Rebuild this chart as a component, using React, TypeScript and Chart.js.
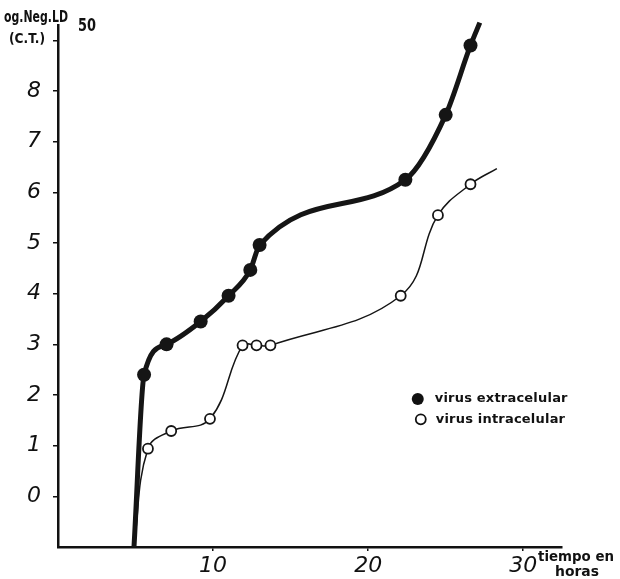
import React, { useEffect, useRef } from "react";
import { Chart, registerables } from "chart.js";

Chart.register(...registerables);

// Extracellular virus (filled markers); first and last entries are curve ends without markers
const extraX = [4.9, 5.55, 7.0, 9.2, 11.0, 12.4, 13.0, 22.4, 25.0, 26.6, 27.2];
const extraY = [-1.0, 2.4, 3.0, 3.45, 3.96, 4.47, 4.96, 6.25, 7.53, 8.9, 9.35];
const extraMarked = [false, true, true, true, true, true, true, true, true, true, false];

// Intracellular virus (open markers)
const intraX = [4.9, 5.8, 7.3, 9.8, 11.9, 12.8, 13.7, 22.1, 24.5, 26.6, 28.3];
const intraY = [-1.0, 0.94, 1.29, 1.53, 2.98, 2.98, 2.98, 3.96, 5.55, 6.16, 6.47];
const intraMarked = [false, true, true, true, true, true, true, true, true, true, false];

const xTickLabels = ["10", "20", "30"];
const yTickLabels = ["0", "1", "2", "3", "4", "5", "6", "7", "8"];
const legendLabels = ["virus extracelular", "virus intracelular"];
const yTitle = ["og.Neg.LD", "50", "(C.T.)"];
const xTitle = ["tiempo en", "horas"];

const toPts = (xs: number[], ys: number[]) => xs.map((x, i) => ({ x, y: ys[i] }));

const FONT = "'DejaVu Sans', sans-serif";

const overlayPlugin = {
  id: "overlay",
  afterDraw(chart: any) {
    const ctx = chart.ctx;
    const xs = chart.scales.x;
    const ys = chart.scales.y;
    ctx.save();
    ctx.fillStyle = "#111";
    ctx.strokeStyle = "#111";
    ctx.textBaseline = "alphabetic";
    ctx.textAlign = "left";
    // y-axis title
    ctx.font = "bold 15px " + FONT;
    ctx.fillText(yTitle[0], 4, 22, 64);
    ctx.font = "bold 17px " + FONT;
    ctx.fillText(yTitle[1], 78, 31, 18);
    ctx.font = "bold 14px " + FONT;
    ctx.fillText(yTitle[2], 9, 43, 36);
    // x-axis title
    ctx.font = "bold 14px " + FONT;
    ctx.fillText(xTitle[0], 538, 561, 76);
    ctx.fillText(xTitle[1], 555, 576, 44);
    // legend
    const lx = xs.getPixelForValue(23.2);
    const ly1 = ys.getPixelForValue(1.92);
    const ly2 = ys.getPixelForValue(1.52);
    ctx.beginPath();
    ctx.arc(lx, ly1, 6, 0, Math.PI * 2);
    ctx.fill();
    ctx.beginPath();
    ctx.lineWidth = 1.8;
    ctx.arc(lx + 3, ly2, 5, 0, Math.PI * 2);
    ctx.stroke();
    ctx.font = "bold 13px " + FONT;
    ctx.textBaseline = "middle";
    try {
      (ctx as any).letterSpacing = "0.2px";
    } catch (e) {}
    ctx.fillText(legendLabels[0], lx + 17, ly1);
    ctx.fillText(legendLabels[1], lx + 18, ly2);
    ctx.restore();
  },
};

export default function App() {
  const ref = useRef<HTMLCanvasElement | null>(null);
  useEffect(() => {
    if (!ref.current) return;
    const chart = new Chart(ref.current, {
      type: "line",
      data: {
        datasets: [
          {
            label: legendLabels[0],
            data: toPts(extraX, extraY),
            borderColor: "#151515",
            backgroundColor: "#151515",
            borderWidth: 5,
            cubicInterpolationMode: "monotone",
            pointRadius: (c: any) => (extraMarked[c.dataIndex] ? 7 : 0),
            pointBackgroundColor: "#151515",
            pointBorderWidth: 0,
            clip: false as any,
          },
          {
            label: legendLabels[1],
            data: toPts(intraX, intraY),
            borderColor: "#151515",
            backgroundColor: "#ffffff",
            borderWidth: 1.5,
            tension: 0.4,
            pointRadius: (c: any) => (intraMarked[c.dataIndex] ? 5 : 0),
            pointBackgroundColor: "#ffffff",
            pointBorderColor: "#151515",
            pointBorderWidth: 1.8,
            clip: false as any,
          },
        ],
      },
      options: {
        responsive: false,
        animation: false,
        layout: { padding: { top: 22, right: 58, left: 0, bottom: 0 } },
        plugins: { legend: { display: false }, tooltip: { enabled: false } },
        scales: {
          x: {
            type: "linear",
            min: 0,
            max: 32.5,
            afterFit: (s: any) => {
              s.height = 32;
            },
            afterBuildTicks: (s: any) => {
              s.ticks = xTickLabels.map((t) => ({ value: Number(t) }));
            },
            ticks: {
              color: "#111",
              padding: 2,
              font: { size: 22, style: "italic", family: FONT },
              callback: (v: any) => String(v),
            },
            grid: { drawOnChartArea: false, drawTicks: true, tickLength: 4, color: "#111", lineWidth: 1.5 },
            border: { display: true, color: "#111", width: 2.5 },
          },
          y: {
            type: "linear",
            min: -1,
            max: 9.3,
            afterFit: (s: any) => {
              s.width = 58;
            },
            afterBuildTicks: (s: any) => {
              s.ticks = [...yTickLabels.map((t) => ({ value: Number(t) })), { value: 9 }];
            },
            ticks: {
              color: "#111",
              padding: 12,
              font: { size: 22, style: "italic", family: FONT },
              callback: (v: any) => (yTickLabels.includes(String(v)) ? String(v) : ""),
            },
            grid: { drawOnChartArea: false, drawTicks: true, tickLength: 5, color: "#111", lineWidth: 1.5 },
            border: { display: true, color: "#111", width: 2.5 },
          },
        },
      },
      plugins: [overlayPlugin],
    } as any);
    return () => chart.destroy();
  }, []);
  return (
    <div style={{ position: "absolute", left: 0, top: 0, width: 620, height: 579, background: "#fff" }}>
      <canvas ref={ref} width={620} height={579} />
    </div>
  );
}
